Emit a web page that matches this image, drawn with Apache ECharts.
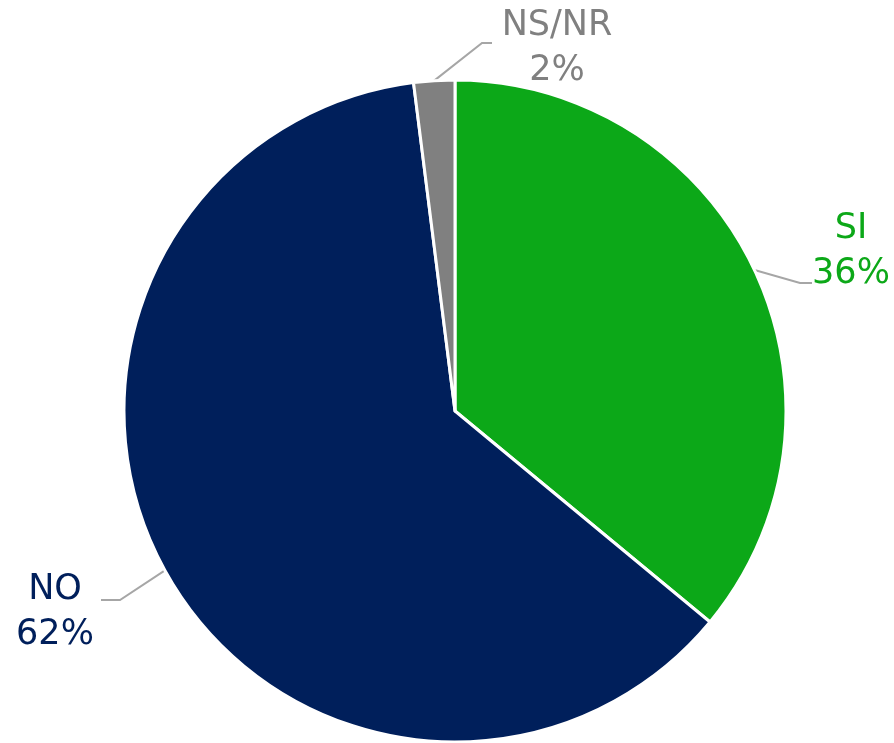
<!DOCTYPE html>
<html>
<head>
<meta charset="utf-8">
<script src="https://cdn.jsdelivr.net/npm/echarts@6/dist/echarts.min.js"></script>
<style>
  html, body { margin: 0; padding: 0; background: #fff; }
  #chart { width: 894px; height: 743px; }
</style>
</head>
<body>
<div id="chart"></div>
<script>
  // datos
  var categories = ['SI', 'NO', 'NS/NR'];
  var values = [36, 62, 2];
  var colors = ['#0ca818', '#001f5b', '#808080'];

  // donde va cada etiqueta (centro del bloque) y el codo de su línea
  var labelPos = {
    'SI':    { x: 851, y: 251, elbow: [800, 283], end: [812, 283] },
    'NO':    { x: 55,  y: 612, elbow: [120, 600], end: [101, 600] },
    'NS/NR': { x: 557, y: 48,  elbow: [482, 43],  end: [492, 43] }
  };

  var chart = echarts.init(document.getElementById('chart'));
  chart.setOption({
    animation: false,
    series: [{
      type: 'pie',
      center: [455, 411],
      radius: [0, 331],
      startAngle: 90,
      clockwise: true,
      data: categories.map(function (c, i) {
        return {
          name: c,
          value: values[i],
          itemStyle: { color: colors[i] },
          label: { color: colors[i] }
        };
      }),
      itemStyle: { borderColor: '#fff', borderWidth: 3 },
      label: {
        show: true,
        position: 'outside',
        formatter: '{b}\n{c}%',
        fontFamily: 'DejaVu Sans',
        fontSize: 35,
        lineHeight: 45,
        align: 'center',
        overflow: 'none',
        edgeDistance: 0
      },
      labelLine: {
        show: true,
        length: 38,
        length2: 14,
        lineStyle: { color: '#a6a6a6', width: 2 }
      },
      labelLayout: function (params) {
        var p = labelPos[categories[params.dataIndex]];
        var start = params.labelLinePoints ? params.labelLinePoints[0] : p.elbow;
        return {
          x: p.x,
          y: p.y,
          align: 'center',
          verticalAlign: 'middle',
          labelLinePoints: [start, p.elbow, p.end]
        };
      }
    }]
  });
</script>
</body>
</html>
